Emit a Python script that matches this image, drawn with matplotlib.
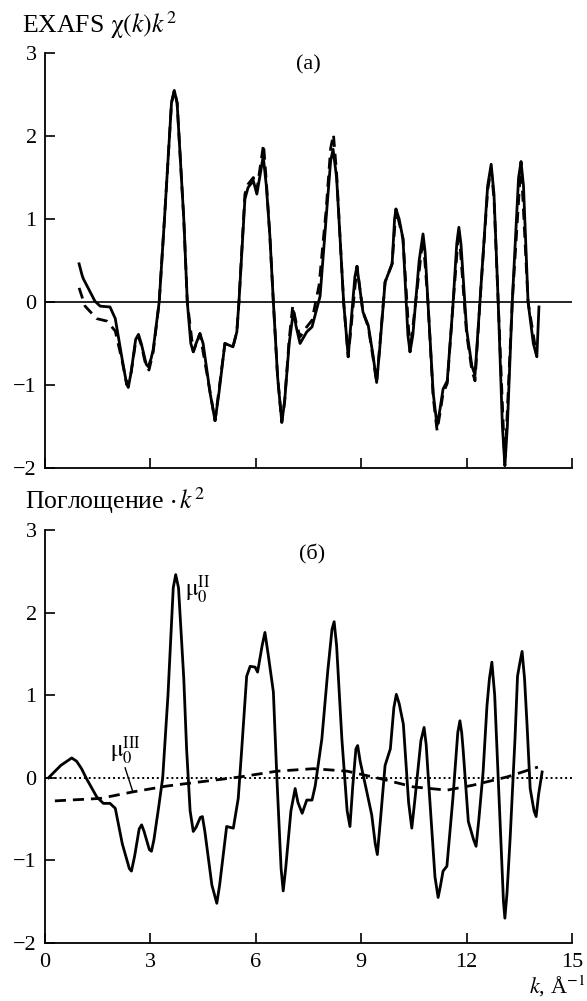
import matplotlib
matplotlib.use('Agg')
import matplotlib.pyplot as plt

plt.rcParams['font.family'] = ['Liberation Serif', 'DejaVu Serif']
plt.rcParams['mathtext.fontset'] = 'stix'
plt.rcParams['font.size'] = 16

# ---- (a) EXAFS chi(k)k^2: solid and dashed curves ----
ka_solid = [0.97, 1.05, 1.09, 1.25, 1.42, 1.57, 1.85, 2.0, 2.2, 2.32, 2.37, 2.45, 2.58,
            2.66, 2.74, 2.88, 2.94, 3.02, 3.08, 3.25, 3.4, 3.6, 3.68, 3.76, 3.95, 4.05,
            4.15, 4.22, 4.3, 4.41, 4.5, 4.7, 4.84, 4.95, 5.12, 5.35, 5.46, 5.52, 5.69,
            5.78, 5.93, 6.03, 6.15, 6.21, 6.3, 6.4, 6.5, 6.62, 6.74, 6.82, 6.95, 7.07,
            7.15, 7.26, 7.45, 7.6, 7.83, 8.0, 8.13, 8.2, 8.3, 8.4, 8.5, 8.63, 8.7, 8.82,
            8.88, 8.95, 9.05, 9.2, 9.34, 9.44, 9.52, 9.68, 9.88, 9.95, 9.99, 10.08,
            10.19, 10.33, 10.39, 10.47, 10.65, 10.76, 10.82, 10.9, 11.05, 11.16, 11.24,
            11.33, 11.45, 11.61, 11.72, 11.78, 11.84, 12.0, 12.15, 12.24, 12.3, 12.38,
            12.6, 12.7, 12.78, 12.9, 13.02, 13.09, 13.16, 13.3, 13.48, 13.55, 13.62,
            13.75, 13.9, 14.0, 14.06]
ya_solid = [0.46, 0.33, 0.28, 0.15, 0.01, -0.05, -0.06, -0.2, -0.7, -0.98, -1.03, -0.85, -0.45,
            -0.39, -0.5, -0.75, -0.78, -0.68, -0.57, 0.0, 1.0, 2.4, 2.55, 2.4, 1.0, 0.0,
            -0.5, -0.6, -0.5, -0.38, -0.5, -1.1, -1.43, -1.1, -0.5, -0.54, -0.36, 0.0, 1.24,
            1.38, 1.46, 1.3, 1.6, 1.76, 1.4, 0.8, 0.0, -0.9, -1.45, -1.2, -0.5, -0.11,
            -0.3, -0.5, -0.36, -0.3, 0.07, 1.0, 1.7, 1.84, 1.5, 0.76, 0.0, -0.66, -0.3, 0.3,
            0.43, 0.2, -0.12, -0.28, -0.65, -0.97, -0.6, 0.24, 0.46, 1.0, 1.12, 1.0,
            0.76, -0.4, -0.6, -0.4, 0.5, 0.82, 0.6, 0.0, -1.1, -1.49, -1.3,
            -1.05, -0.95, -0.05, 0.7, 0.9, 0.7, -0.33, -0.77, -0.88, -0.5, 0.0,
            1.4, 1.66, 1.3, 0.0, -1.5, -1.97, -1.5, 0.0, 1.5, 1.69, 1.4,
            0.0, -0.5, -0.66, -0.06]

ka_dash = [0.97, 1.14, 1.47, 1.76, 2.0, 2.2, 2.33, 2.45, 2.58, 2.66, 2.74, 2.88, 2.96,
           3.08, 3.25, 3.4, 3.6, 3.68, 3.76, 3.95, 4.05, 4.22, 4.41, 4.84, 5.12, 5.35,
           5.46, 5.52, 5.69, 5.78, 5.93, 6.03, 6.15, 6.22, 6.3, 6.4, 6.5, 6.62, 6.74,
           6.82, 6.95, 7.05, 7.15, 7.26, 7.45, 7.6, 7.8, 8.0, 8.13, 8.21, 8.3, 8.4, 8.5,
           8.63, 8.88, 9.05, 9.2, 9.34, 9.44, 9.68, 9.88, 9.99, 10.19, 10.39, 10.76,
           10.9, 11.05, 11.16, 11.24, 11.33, 11.45, 11.61, 11.78, 12.0, 12.15, 12.24,
           12.38, 12.6, 12.7, 12.78, 12.9, 13.09, 13.3, 13.55, 13.75, 14.0]
ya_dash = [0.17, -0.05, -0.2, -0.23, -0.35, -0.72, -1.0, -0.85, -0.48, -0.42, -0.52, -0.78, -0.82,
           -0.6, 0.0, 1.0, 2.4, 2.55, 2.4, 1.0, 0.0, -0.6, -0.38, -1.43, -0.5, -0.54,
           -0.36, 0.0, 1.3, 1.42, 1.5, 1.35, 1.7, 1.9, 1.45, 0.8, 0.0, -0.9, -1.45,
           -1.2, -0.45, -0.05, -0.25, -0.42, -0.3, -0.22, 0.2, 1.1, 1.85, 2.02, 1.55, 0.76, 0.0,
           -0.66, 0.43, -0.12, -0.3, -0.68, -0.97, 0.24, 0.46, 1.12, 0.76, -0.6, 0.78,
           0.0, -1.15, -1.55, -1.35, -1.1, -0.98, -0.05, 0.88, -0.38, -0.82, -0.95,
           0.0, 1.35, 1.6, 1.25, 0.0, -1.97, 0.0, 1.69, 0.0, -0.66]

# ---- (б) absorption * k^2 ----
kb_solid = [0.1, 0.45, 0.76, 0.9, 1.04, 1.18, 1.47, 1.66, 1.85, 2.0, 2.2, 2.4, 2.46, 2.55,
            2.68, 2.75, 2.82, 2.97, 3.03, 3.1, 3.23, 3.35, 3.5, 3.65, 3.72, 3.8, 3.95,
            4.03, 4.13, 4.22, 4.3, 4.42, 4.48, 4.55, 4.75, 4.89, 4.97, 5.17, 5.36, 5.5,
            5.6, 5.74, 5.84, 5.98, 6.05, 6.18, 6.26, 6.35, 6.5, 6.6, 6.72, 6.78, 6.85,
            7.0, 7.12, 7.2, 7.32, 7.45, 7.6, 7.69, 7.88, 8.05, 8.17, 8.23, 8.3, 8.45,
            8.6, 8.68, 8.76, 8.85, 8.9, 8.97, 9.16, 9.3, 9.4, 9.46, 9.55, 9.68, 9.83,
            9.93, 10.0, 10.08, 10.2, 10.35, 10.44, 10.52, 10.7, 10.79, 10.85, 10.9, 11.1,
            11.19, 11.26, 11.33, 11.44, 11.61, 11.75, 11.81, 11.86, 11.9, 12.05, 12.2,
            12.27, 12.35, 12.47, 12.58, 12.65, 12.72, 12.8, 12.95, 13.05, 13.09, 13.15,
            13.24, 13.38, 13.45, 13.52, 13.58, 13.65, 13.72, 13.81, 13.92, 13.98, 14.05,
            14.15]
yb_solid = [0.0, 0.15, 0.24, 0.2, 0.11, -0.01, -0.23, -0.31, -0.31, -0.37, -0.8, -1.1, -1.13, -0.95,
            -0.62, -0.57, -0.65, -0.87, -0.89, -0.75, -0.37, 0.0, 1.0, 2.3, 2.46, 2.3, 1.2,
            0.35, -0.4, -0.65, -0.6, -0.48, -0.47, -0.65, -1.3, -1.52, -1.3, -0.59, -0.61, -0.25,
            0.35, 1.23, 1.35, 1.34, 1.28, 1.6, 1.76, 1.5, 1.04, 0.0, -1.1, -1.37, -1.1,
            -0.4, -0.13, -0.3, -0.43, -0.27, -0.27, -0.1, 0.47, 1.3, 1.8, 1.89, 1.6, 0.47,
            -0.4, -0.59, -0.1, 0.35, 0.39, 0.2, -0.17, -0.45, -0.8, -0.93, -0.5, 0.15, 0.35,
            0.85, 1.01, 0.9, 0.65, -0.3, -0.61, -0.3, 0.45, 0.61, 0.4, 0.07, -1.2,
            -1.45, -1.3, -1.13, -1.07, -0.25, 0.55, 0.69, 0.55, 0.35, -0.53, -0.75,
            -0.83, -0.5, 0.07, 0.87, 1.2, 1.4, 1.0, -0.5, -1.5, -1.7, -1.4,
            -0.73, 0.49, 1.23, 1.4, 1.53, 1.2, 0.65, -0.13, -0.4, -0.47, -0.2,
            0.07]

kb_dash = [0.28, 1.57, 2.51, 3.47, 4.41, 5.55, 6.6, 7.64, 8.6, 9.54, 10.48, 11.44,
           12.18, 13.15, 14.03]
yb_dash = [-0.28, -0.25, -0.17, -0.1, -0.05, 0.01, 0.08, 0.11, 0.08, -0.01, -0.11, -0.15,
           -0.09, 0.01, 0.13]

yticks = [-2, -1, 0, 1, 2, 3]
xticks = [0, 3, 6, 9, 12, 15]

fig = plt.figure(figsize=(5.87, 10.01), dpi=100)
ax1 = fig.add_axes([0.0767, 0.5325, 0.8977, 0.4145])
ax2 = fig.add_axes([0.0767, 0.058, 0.8977, 0.4125])

for ax in (ax1, ax2):
    ax.set_xlim(0, 15)
    ax.set_ylim(-2, 3)
    ax.set_xticks(xticks)
    ax.set_yticks(yticks)
    for s in ('top', 'right'):
        ax.spines[s].set_visible(False)
    for s in ('left', 'bottom'):
        ax.spines[s].set_linewidth(1.3)
    ax.tick_params(direction='in', length=7, width=1.2, labelsize=16, pad=6)

ax1.tick_params(axis='x', labelbottom=False)
ax2.tick_params(axis='x', pad=7)

# panel (a)
ax1.axhline(0, color='black', lw=1.2)
ax1.plot(ka_dash, ya_dash, color='black', lw=2, ls=(0, (4, 2.5)))
ax1.plot(ka_solid, ya_solid, color='black', lw=2)
ax1.text(7.5, 2.86, '(a)', ha='center', va='center', fontsize=16)
fig.text(0.038, 0.975, r'EXAFS $\mathrm{χ}(k)k^2$', ha='left', va='center', fontsize=18.5)

# panel (б)
ax2.axhline(0, color='black', lw=1.4, ls=(0, (1, 1.5)))
ax2.plot(kb_dash, yb_dash, color='black', lw=2, ls=(0, (4, 2.5)))
ax2.plot(kb_solid, yb_solid, color='black', lw=2)
ax2.text(7.6, 2.7, '(б)', ha='center', va='center', fontsize=16)
ax2.text(3.98, 2.08, r'$\mathrm{μ}_0^{\mathrm{II}}$', ha='left', va='bottom', fontsize=17)
ax2.text(1.85, 0.13, r'$\mathrm{μ}_0^{\mathrm{III}}$', ha='left', va='bottom', fontsize=17)
ax2.plot([2.28, 2.5], [0.12, -0.17], color='black', lw=1)
fig.text(0.043, 0.5, r'Поглощение $\cdot\, k^2$', ha='left', va='center', fontsize=18.5)
fig.text(0.997, 0.015, r'$k$, Å$^{-1}$', ha='right', va='center', fontsize=16)

fig.savefig('out.png', dpi=100, facecolor='white')
